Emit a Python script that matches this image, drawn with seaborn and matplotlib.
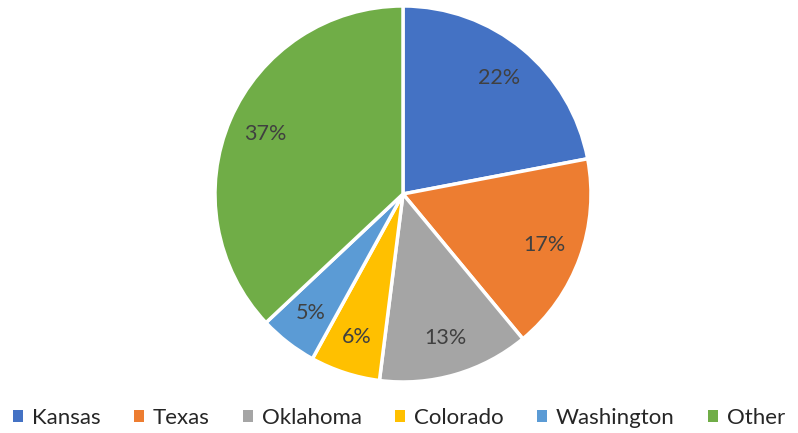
import matplotlib
matplotlib.use("Agg")
import matplotlib.pyplot as plt
import seaborn as sns
from matplotlib.patches import Patch

# data
states = ["Kansas", "Texas", "Oklahoma", "Colorado", "Washington", "Other"]
shares = [22, 17, 13, 6, 5, 37]
colors = ["#4472C4", "#ED7D31", "#A5A5A5", "#FFC000", "#5B9BD5", "#70AD47"]

sns.set_theme(style="white")
plt.rcParams['font.family'] = ['Lato', 'DejaVu Sans']

fig = plt.figure(figsize=(7.98, 4.33), dpi=100)
ax = fig.add_axes([0.2694, 0.1178, 0.4712, 0.8684])

wedges, texts, autotexts = ax.pie(
    shares,
    colors=sns.color_palette(colors),
    startangle=90,
    counterclock=False,
    autopct="%1.0f%%",
    pctdistance=0.8,
    wedgeprops=dict(edgecolor="white", linewidth=2.5),
    textprops=dict(color="#404040", fontsize=15.5),
)
ax.set_xlim(-1, 1)
ax.set_ylim(-1, 1)
ax.set_aspect("equal")
ax.axis("off")

handles = [Patch(facecolor=c, edgecolor="none") for c in colors]
fig.legend(handles, states, loc="lower center", bbox_to_anchor=(0.5, -0.035),
           ncol=6, frameon=False, fontsize=16, handlelength=0.45, handleheight=0.45,
           handletextpad=0.4, columnspacing=1.5)

fig.savefig("out.png", dpi=100)
